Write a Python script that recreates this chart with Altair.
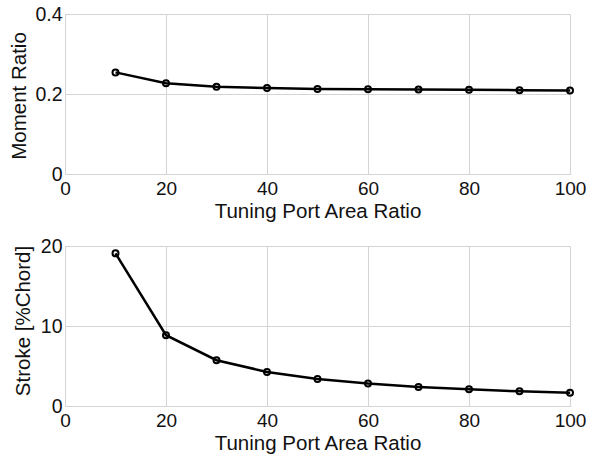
import altair as alt
import pandas as pd

port_ratio = [10, 20, 30, 40, 50, 60, 70, 80, 90, 100]
moment_ratio = [0.254, 0.227, 0.218, 0.215, 0.2125, 0.212, 0.211, 0.2105, 0.2095, 0.209]
stroke_pct = [19.08, 8.85, 5.72, 4.26, 3.38, 2.80, 2.38, 2.08, 1.83, 1.67]

x_ticks = [0, 20, 40, 60, 80, 100]
moment_ticks = [0, 0.2, 0.4]
stroke_ticks = [0, 10, 20]

df1 = pd.DataFrame({"ratio": port_ratio, "val": moment_ratio})
df2 = pd.DataFrame({"ratio": port_ratio, "val": stroke_pct})

FONT = "Liberation Sans"
W, H = 505, 160


def panel(df, ytitle, ydomain, yticks, title_x, title_y):
    xax = alt.Axis(values=x_ticks, title="Tuning Port Area Ratio", grid=True,
                   ticks=False, domain=False, labelPadding=5, labelFontSize=19,
                   labelFlush=False, labelOverlap=False, labelColor="#111",
                   titleFontSize=20.5, titleFontWeight="normal", titleColor="#111",
                   titleBaseline="alphabetic", titleY=43, titleX=W / 2,
                   gridColor="#d4d4d4", gridWidth=1)
    yax = alt.Axis(values=yticks, title=ytitle, grid=True, ticks=False, domain=False,
                   format="~g", labelPadding=3, labelFontSize=19.5, labelFlush=False,
                   labelOverlap=False, labelColor="#111",
                   titleFontSize=20.5, titleFontWeight="normal", titleColor="#111",
                   titleBaseline="alphabetic", titleAlign="center", titleAngle=270,
                   titleX=title_x, titleY=title_y,
                   gridColor="#d4d4d4", gridWidth=1)
    base = alt.Chart(df).encode(
        x=alt.X("ratio:Q", scale=alt.Scale(domain=[0, 100], nice=False), axis=xax),
        y=alt.Y("val:Q", scale=alt.Scale(domain=ydomain, nice=False), axis=yax),
    )
    line = base.mark_line(color="black", strokeWidth=2.5)
    pts = base.mark_point(shape="circle", filled=False, color="black", strokeWidth=2,
                          size=36, opacity=1)
    return alt.layer(line, pts).properties(width=W, height=H)


top = panel(df1, "Moment Ratio", [0, 0.4], moment_ticks, -40, 81.5)
bottom = panel(df2, "Stroke [%Chord]", [0, 20], stroke_ticks, -36, 74.5)

chart = alt.vconcat(top, bottom, spacing=13).properties(
    padding={"left": 8, "top": 3, "right": 3, "bottom": 2}
).configure_view(
    stroke="#999999", strokeWidth=1.5
).configure(font=FONT, background="white")

chart.save("out.html", embed_options={"renderer": "svg", "actions": False})
